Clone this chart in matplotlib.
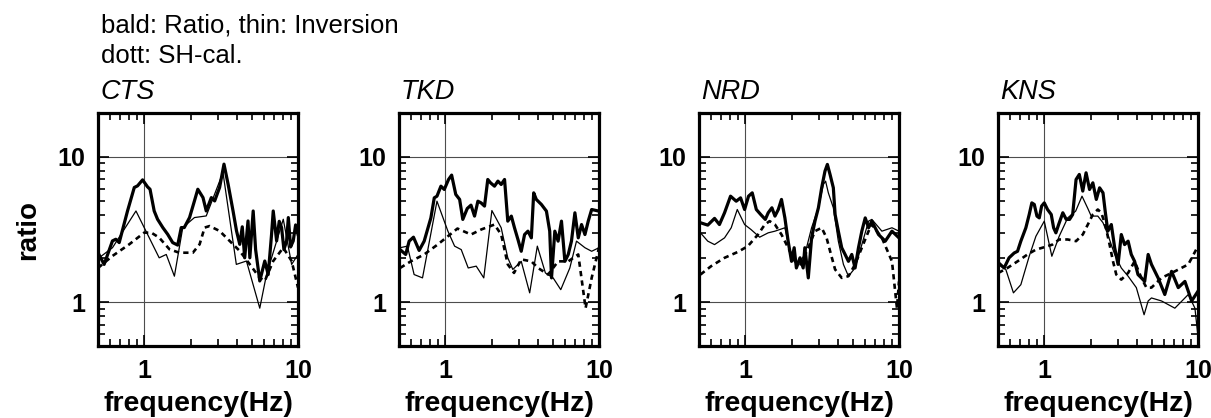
import matplotlib
matplotlib.use('Agg')
import matplotlib.pyplot as plt
from matplotlib.ticker import LogLocator, FuncFormatter, NullFormatter

plt.rcParams['font.family'] = ['Liberation Sans', 'DejaVu Sans']

stations = ['CTS', 'TKD', 'NRD', 'KNS']

# CTS
cts_ratio_f = [0.5, 0.548, 0.621, 0.653, 0.687, 0.778, 0.861, 0.904, 0.975, 1.05, 1.09, 1.16, 1.22,
               1.32, 1.42, 1.53, 1.65, 1.74, 1.82, 1.97, 2.12, 2.23, 2.41, 2.53, 2.73, 2.87, 3.09,
               3.30, 3.51, 3.78, 3.98, 4.18, 4.34, 4.50, 4.73, 4.86, 5.11, 5.30, 5.64, 6.08, 6.40,
               6.73, 6.90, 7.26, 7.55, 7.82, 8.10, 8.43, 8.65, 8.95, 9.31, 9.65, 10]
cts_ratio_v = [2.19, 1.82, 2.64, 2.71, 2.57, 4.24, 6.15, 6.31, 6.94, 6.21, 5.98, 4.24, 3.72,
               3.26, 2.93, 2.57, 2.47, 3.26, 3.26, 3.82, 4.97, 5.98, 5.24, 4.24, 5.24, 4.97, 6.15,
               8.9, 6.48, 4.24, 3.10, 2.50, 3.30, 2.02, 3.62, 2.02, 4.24, 2.30, 1.40, 1.92, 1.55,
               2.93, 4.24, 2.64, 3.60, 3.26, 2.30, 2.64, 3.82, 2.40, 2.64, 3.40, 2.93]
cts_inv_f = [0.508, 0.621, 0.883, 1.25, 1.39, 1.57, 1.78, 2.12, 2.53, 3.25, 3.97, 4.62, 5.64,
             6.24, 8.02, 9.09, 10]
cts_inv_v = [2.02, 2.37, 4.24, 2.02, 2.13, 1.51, 3.26, 3.82, 3.92, 7.8, 1.82, 1.92, 0.91,
             1.55, 3.72, 1.82, 2.13]
cts_sh_f = [0.5, 0.621, 0.798, 1.0, 1.11, 1.25, 1.46, 1.69, 2.07, 2.29, 2.47, 2.66, 3.09, 3.59,
            4.18, 4.86, 5.64, 6.08, 6.90, 8.02, 9.09, 10]
cts_sh_v = [1.72, 2.08, 2.50, 3.01, 3.01, 2.78, 2.31, 2.19, 2.19, 2.50, 3.26, 3.34, 3.09, 2.64,
            2.25, 1.82, 1.47, 1.40, 1.92, 2.37, 1.92, 1.26]

# TKD
tkd_ratio_f = [0.508, 0.553, 0.582, 0.621, 0.676, 0.729, 0.806, 0.848, 0.883, 0.937, 0.985, 1.05,
               1.10, 1.17, 1.24, 1.30, 1.39, 1.47, 1.55, 1.63, 1.71, 1.80, 1.89, 1.97, 2.09, 2.20,
               2.31, 2.43, 2.55, 2.69, 2.82, 2.97, 3.12, 3.28, 3.45, 3.63, 3.76, 3.91, 4.22, 4.55,
               4.78, 4.91, 5.16, 5.42, 5.70, 6.00, 6.31, 6.62, 6.97, 7.33, 7.70, 8.10, 8.51, 8.96, 10]
tkd_ratio_v = [2.30, 2.13, 2.63, 2.80, 2.27, 2.63, 3.80, 5.22, 5.36, 6.28, 5.96, 6.98,
               7.48, 5.51, 5.09, 3.71, 4.41, 4.65, 3.91, 4.95, 4.82, 4.58, 6.98, 6.62, 6.28, 6.80,
               6.45, 6.98, 3.61, 3.91, 3.25, 2.70, 2.24, 2.92, 3.08, 2.77, 5.65, 5.09, 4.70, 4.23,
               3.08, 1.47, 3.08, 2.63, 3.61, 1.91, 2.13, 2.63, 4.12, 2.77, 3.42, 2.92, 3.61, 4.34, 4.23]
tkd_inv_f = [0.508, 0.567, 0.627, 0.711, 0.883, 1.04, 1.15, 1.27, 1.41, 1.59, 1.78, 2.01, 2.31,
             2.55, 2.75, 3.12, 3.54, 3.97, 4.48, 5.03, 5.64, 6.46, 7.14, 8.10, 8.96, 10]
tkd_inv_v = [2.37, 2.43, 1.55, 1.47, 4.95, 3.08, 2.43, 2.30, 1.72, 1.77, 1.47, 4.27, 3.25,
             2.02, 1.68, 1.91, 1.16, 2.43, 1.59, 1.47, 1.22, 1.72, 2.63, 2.37, 2.24, 2.37]
tkd_sh_f = [0.508, 0.597, 0.729, 0.891, 1.04, 1.20, 1.47, 1.71, 2.09, 2.31, 2.55, 2.80, 3.12,
            3.63, 4.01, 4.67, 5.42, 6.31, 7.33, 8.18, 8.96, 10]
tkd_sh_v = [1.72, 1.91, 2.13, 2.49, 2.84, 3.21, 2.92, 3.16, 3.42, 2.92, 1.82, 1.59, 1.97,
            1.91, 1.72, 1.55, 1.91, 1.91, 2.13, 0.91, 1.47, 2.37]

# NRD
nrd_ratio_f = [0.511, 0.570, 0.631, 0.679, 0.733, 0.802, 0.873, 0.932, 0.99, 1.05, 1.11, 1.18,
               1.26, 1.35, 1.41, 1.49, 1.56, 1.64, 1.72, 1.81, 1.90, 2.00, 2.08, 2.15, 2.27, 2.38,
               2.44, 2.57, 2.70, 2.84, 2.99, 3.14, 3.30, 3.42, 3.56, 3.74, 3.84, 4.03, 4.24, 4.46,
               4.69, 4.93, 5.18, 5.45, 5.73, 6.03, 6.34, 6.66, 7.36, 8.14, 9.00, 10]
nrd_ratio_v = [3.52, 3.39, 3.77, 3.42, 4.12, 5.36, 4.95, 5.22, 4.34, 5.36, 5.65, 4.34,
               4.01, 3.71, 4.12, 4.46, 3.91, 4.34, 5.09, 3.80, 2.63, 1.91, 2.37, 1.72, 2.02, 1.72,
               2.37, 1.47, 2.77, 3.61, 4.46, 6.12, 7.97, 8.86, 7.56, 6.12, 4.01, 3.08, 2.37, 2.13,
               1.91, 2.13, 1.72, 2.37, 3.08, 3.80, 3.25, 3.61, 2.92, 2.63, 3.08, 2.77]
nrd_inv_f = [0.511, 0.570, 0.631, 0.733, 0.810, 0.887, 0.99, 1.09, 1.24, 1.41, 1.56, 1.81, 2.00,
             2.21, 2.44, 2.70, 2.99, 3.22, 3.33, 3.47, 3.74, 4.03, 4.35, 4.69, 5.18, 5.73, 6.34,
             6.66, 7.74, 9.00, 10]
nrd_inv_v = [3.00, 2.63, 2.49, 2.77, 3.25, 4.34, 3.42, 3.16, 2.80, 3.00, 3.08, 3.25, 2.02,
             1.82, 2.13, 3.25, 4.46, 6.45, 6.80, 5.65, 4.46, 2.63, 1.82, 1.51, 1.72, 2.49, 3.61,
             3.71, 3.08, 3.25, 3.08]
nrd_sh_f = [0.511, 0.600, 0.733, 0.897, 1.04, 1.21, 1.34, 1.44, 1.56, 1.72, 1.90, 2.10, 2.30,
            2.57, 2.84, 3.14, 3.38, 3.61, 3.84, 4.24, 4.69, 5.18, 5.73, 6.34, 6.66, 7.74, 9.00,
            9.70, 10]
nrd_sh_v = [1.55, 1.77, 2.02, 2.22, 2.43, 2.92, 3.42, 3.61, 3.42, 2.92, 2.37, 1.91, 1.82,
            2.37, 3.08, 3.25, 2.77, 2.13, 1.68, 1.47, 1.51, 1.82, 2.37, 3.08, 3.42, 2.77, 1.91,
            0.91, 1.39]

# KNS
kns_ratio_f = [0.503, 0.548, 0.590, 0.637, 0.670, 0.704, 0.759, 0.798, 0.830, 0.861, 0.896, 0.928,
               0.961, 1.0, 1.05, 1.11, 1.15, 1.19, 1.24, 1.32, 1.39, 1.46, 1.53, 1.61, 1.69, 1.78,
               1.87, 1.97, 2.07, 2.18, 2.29, 2.41, 2.49, 2.59, 2.73, 2.87, 3.02, 3.17, 3.33, 3.51,
               3.68, 3.87, 4.07, 4.28, 4.50, 4.74, 4.98, 5.50, 6.08, 6.73, 7.44, 8.22, 9.09, 10]
kns_ratio_v = [1.87, 1.72, 2.02, 2.18, 2.24, 2.63, 3.25, 4.01, 4.82, 4.70, 3.91, 3.80,
               4.58, 4.82, 4.34, 4.01, 3.25, 3.00, 3.42, 4.12, 3.71, 3.71, 4.01, 6.98, 7.56, 5.81,
               7.76, 5.96, 6.62, 5.09, 6.12, 5.65, 4.23, 3.08, 3.42, 2.37, 1.82, 2.92, 2.49, 2.63,
               2.13, 1.91, 1.55, 1.47, 1.39, 2.13, 1.82, 1.47, 1.13, 1.63, 1.26, 1.39, 1.02, 1.19]
kns_inv_f = [0.503, 0.562, 0.630, 0.704, 0.798, 0.882, 1.0, 1.12, 1.25, 1.42, 1.60, 1.76, 1.92,
             2.02, 2.23, 2.41, 2.59, 2.87, 3.17, 3.51, 3.97, 4.46, 4.74, 4.98, 5.79, 7.07, 8.65,
             9.55, 10]
kns_inv_v = [1.82, 1.68, 1.16, 1.32, 2.07, 2.84, 3.61, 2.07, 2.84, 3.80, 4.23, 5.36, 4.41,
             3.91, 3.91, 3.52, 2.92, 2.13, 1.72, 1.51, 1.26, 0.82, 1.02, 1.07, 1.02, 0.91, 1.13,
             0.91, 0.58]
kns_sh_f = [0.503, 0.576, 0.670, 0.778, 0.882, 1.0, 1.13, 1.25, 1.42, 1.61, 1.78, 1.92, 2.07,
            2.23, 2.35, 2.49, 2.66, 2.80, 2.94, 3.17, 3.51, 3.87, 4.28, 4.62, 4.98, 5.79, 7.07,
            8.65, 10]
kns_sh_v = [1.59, 1.72, 1.91, 2.13, 2.30, 2.39, 2.49, 2.70, 2.70, 2.63, 2.92, 3.42, 4.01,
            4.34, 4.12, 3.42, 2.49, 1.91, 1.55, 1.43, 1.59, 1.91, 1.47, 1.26, 1.26, 1.47, 1.63,
            1.82, 2.43]

panels = [
    (cts_ratio_f, cts_ratio_v, cts_inv_f, cts_inv_v, cts_sh_f, cts_sh_v),
    (tkd_ratio_f, tkd_ratio_v, tkd_inv_f, tkd_inv_v, tkd_sh_f, tkd_sh_v),
    (nrd_ratio_f, nrd_ratio_v, nrd_inv_f, nrd_inv_v, nrd_sh_f, nrd_sh_v),
    (kns_ratio_f, kns_ratio_v, kns_inv_f, kns_inv_v, kns_sh_f, kns_sh_v),
]

W, H = 1211, 418
fig = plt.figure(figsize=(W / 100, H / 100), dpi=100)

lefts = [98, 399, 699, 998]
ax_w = 200
ax_top = 113
ax_bot = 346

fig.text(101 / W, 1 - 33 / H, 'bald: Ratio, thin: Inversion', fontsize=18.5, va='baseline')
fig.text(101 / W, 1 - 63 / H, 'dott: SH-cal.', fontsize=18.5, va='baseline')

for i, (name, data) in enumerate(zip(stations, panels)):
    rf, rv, inf, inv, shf, shv = data
    ax = fig.add_axes([lefts[i] / W, 1 - ax_bot / H, ax_w / W, (ax_bot - ax_top) / H])
    ax.set_xscale('log')
    ax.set_yscale('log')
    ax.set_xlim(0.5, 10)
    ax.set_ylim(0.5, 20)

    ax.plot(shf, shv, color='black', lw=1.9, linestyle=(0, (2.0, 1.6)), zorder=3)
    ax.plot(inf, inv, color='black', lw=0.9, zorder=4)
    ax.plot(rf, rv, color='black', lw=2.3, zorder=5)

    for a in (ax.xaxis, ax.yaxis):
        a.set_major_locator(LogLocator(base=10))
        a.set_minor_locator(LogLocator(base=10, subs=range(2, 10)))
        a.set_major_formatter(FuncFormatter(lambda v, p: '%g' % v))
        a.set_minor_formatter(NullFormatter())

    ax.grid(True, which='major', color='0.3', lw=0.8)
    ax.tick_params(which='both', direction='in', top=True, right=True, width=1.2)
    ax.tick_params(which='major', length=8, labelsize=18, pad=9)
    ax.tick_params(which='minor', length=5)
    for lab in ax.get_xticklabels() + ax.get_yticklabels():
        lab.set_fontweight('bold')
    for s in ax.spines.values():
        s.set_linewidth(2.3)

    ax.set_xlabel('frequency(Hz)', fontsize=20.5, fontweight='bold', labelpad=6)
    if i == 0:
        ax.set_ylabel('ratio', fontsize=20, fontweight='bold', labelpad=12)
    ax.text(0.01, 1.06, name, transform=ax.transAxes, fontsize=19.5, style='italic',
            va='baseline')

fig.savefig('out.png', dpi=100)
